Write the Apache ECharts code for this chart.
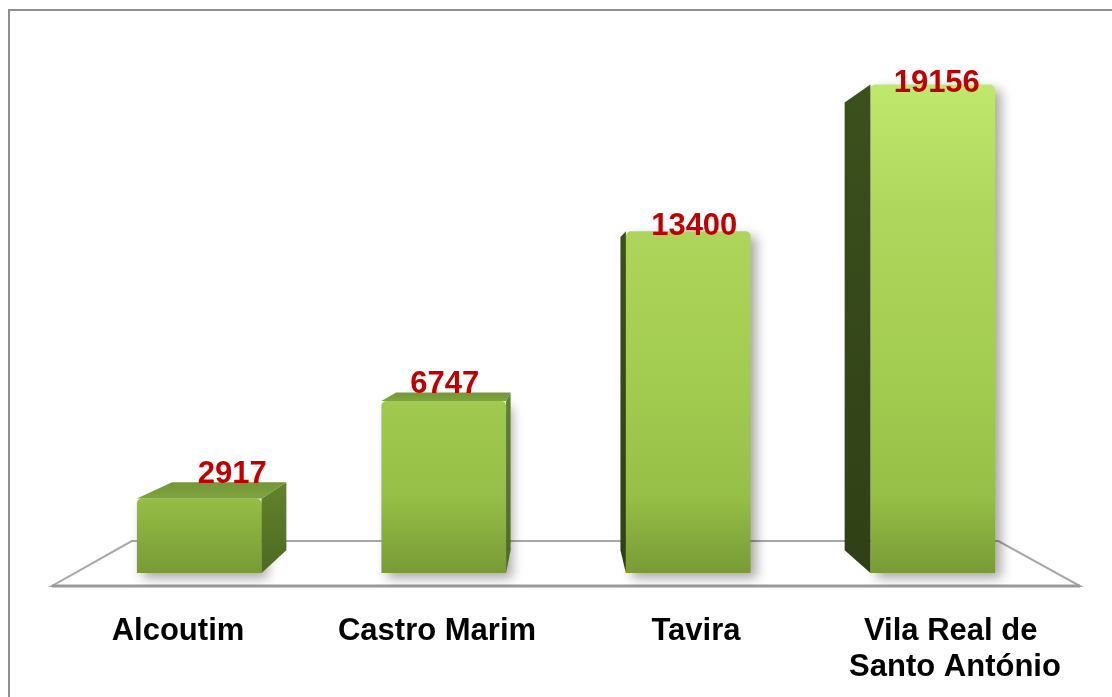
<!DOCTYPE html>
<html>
<head>
<meta charset="utf-8">
<script src="https://cdn.jsdelivr.net/npm/echarts@6/dist/echarts.min.js"></script>
<style>
  html, body { margin: 0; padding: 0; background: #fff; }
  #chart { width: 1112px; height: 697px; }
</style>
</head>
<body>
<div id="chart"></div>
<script>
  var categories = ['Alcoutim', 'Castro Marim', 'Tavira', 'Vila Real de Santo António'];
  var values = [2917, 6747, 13400, 19156];
  // small nudges for the value labels (the original places them a bit unevenly)
  var labelDx = [33, 1, 6, 4];
  var labelDy = [-24, -16, -5, -1];

  // fake perspective: vanishing point as a fraction of the plot, and depth factor
  var vpX = 0.494, vpY = 0.465;
  var depth = 0.083, barRatio = 0.51;
  var floorDepth = 0.157, floorDrop = 13, floorOver = 25;

  var FONT = 'Arial, "Liberation Sans", sans-serif';

  function vp(cs) {
    return [cs.x + cs.width * vpX, cs.y + cs.height * vpY];
  }

  function renderFloor(params, api) {
    var cs = params.coordSys;
    var v = vp(cs);
    var yf = cs.y + cs.height + floorDrop;
    var xl = cs.x - floorOver, xr = cs.x + cs.width + floorOver;
    function back(x, y) { return [x + (v[0] - x) * floorDepth, y + (v[1] - y) * floorDepth]; }
    return {
      type: 'group',
      children: [
        {
          type: 'polygon',
          shape: { points: [[xl, yf], [xr, yf], back(xr, yf), back(xl, yf)] },
          style: { fill: '#fff', stroke: '#a8a8a8', lineWidth: 2 }
        },
        {
          type: 'line',
          shape: { x1: xl, y1: yf, x2: xr, y2: yf },
          style: { stroke: '#9a9a9a', lineWidth: 3 }
        }
      ]
    };
  }

  function renderBar(params, api) {
    var cs = params.coordSys;
    var i = params.dataIndex;
    var v = vp(cs);
    var topPt = api.coord([api.value(0), api.value(1)]);
    var basePt = api.coord([api.value(0), 0]);
    var w = api.size([1, 0])[0] * barRatio;
    var xl = topPt[0] - w / 2, xr = topPt[0] + w / 2;
    var yt = topPt[1], yb = basePt[1];
    function back(x, y) { return [x + (v[0] - x) * depth, y + (v[1] - y) * depth]; }

    var frontFill = {
      type: 'linear', x: 0, y: cs.y, x2: 0, y2: cs.y + cs.height, global: true,
      colorStops: [
        { offset: 0, color: '#c3eb70' },
        { offset: 0.3, color: '#aed65c' },
        { offset: 0.65, color: '#a1cb4f' },
        { offset: 0.85, color: '#95bf46' },
        { offset: 1, color: '#799a36' }
      ]
    };

    var kids = [];
    kids.push({
      type: 'rect',
      shape: { x: xl, y: yt, width: w, height: yb - yt, r: [5, 5, 0, 0] },
      style: {
        fill: frontFill,
        shadowBlur: 12, shadowColor: 'rgba(0,0,0,0.35)', shadowOffsetX: 6, shadowOffsetY: 5
      }
    });
    if (xr < v[0]) {
      kids.push({
        type: 'polygon',
        shape: { points: [[xr, yt], back(xr, yt), back(xr, yb), [xr, yb]] },
        style: {
          fill: { type: 'linear', x: 0, y: 0, x2: 0, y2: 1,
            colorStops: [{ offset: 0, color: '#62832c' }, { offset: 1, color: '#4d6a21' }] }
        }
      });
    } else if (xl > v[0]) {
      kids.push({
        type: 'polygon',
        shape: { points: [[xl, yt], back(xl, yt), back(xl, yb), [xl, yb]] },
        style: {
          fill: { type: 'linear', x: 0, y: 0, x2: 0, y2: 1,
            colorStops: [{ offset: 0, color: '#3c501d' }, { offset: 1, color: '#2f4016' }] }
        }
      });
    }
    if (yt > v[1]) {
      kids.push({
        type: 'polygon',
        shape: { points: [[xl, yt], [xr, yt], back(xr, yt), back(xl, yt)] },
        style: {
          fill: { type: 'linear', x: 0, y: 0, x2: 0, y2: 1,
            colorStops: [{ offset: 0, color: '#73963a' }, { offset: 1, color: '#80a43c' }] }
        }
      });
    }
    kids.push({
      type: 'text',
      x: topPt[0] + labelDx[i],
      y: yt + labelDy[i],
      style: {
        text: String(api.value(1)),
        font: 'bold 31px ' + FONT,
        fill: '#c00000',
        align: 'center',
        verticalAlign: 'middle'
      },
      z2: 10
    });
    return { type: 'group', children: kids };
  }

  var chart = echarts.init(document.getElementById('chart'));
  chart.setOption({
    animation: false,
    backgroundColor: '#fff',
    graphic: [{
      type: 'rect',
      shape: { x: 9, y: 10, width: 1130, height: 720 },
      style: { fill: 'none', stroke: '#909090', lineWidth: 2 },
      z: -10
    }],
    grid: [
      { left: 77, right: 57, top: 63, bottom: 124 },
      { left: 48.5, right: 27.5, top: 590, bottom: 97 }
    ],
    xAxis: [
      {
        type: 'category', gridIndex: 0, data: categories,
        axisLine: { show: false }, axisTick: { show: false }, axisLabel: { show: false }
      },
      {
        type: 'category', gridIndex: 1, data: categories,
        axisLine: { show: false }, axisTick: { show: false },
        axisLabel: {
          interval: 0, margin: 13,
          color: '#000', fontWeight: 'bold', fontSize: 31, fontFamily: FONT,
          lineHeight: 36, width: 230, overflow: 'break'
        }
      }
    ],
    yAxis: [
      { type: 'value', gridIndex: 0, min: 0, max: 20000, show: false },
      { type: 'value', gridIndex: 1, show: false }
    ],
    series: [
      {
        type: 'custom', name: 'floor', xAxisIndex: 0, yAxisIndex: 0, z: 1,
        renderItem: renderFloor, data: [[0, 0]], silent: true
      },
      {
        type: 'custom', name: 'Total', xAxisIndex: 0, yAxisIndex: 0, z: 2,
        renderItem: renderBar,
        encode: { x: 0, y: 1 },
        data: values.map(function (v, i) { return [i, v]; })
      }
    ]
  });
</script>
</body>
</html>
